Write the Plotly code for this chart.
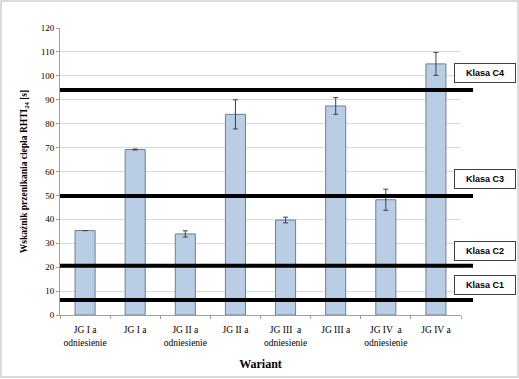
import plotly.graph_objects as go

categories = ["JG I a<br>odniesienie", "JG I a", "JG II a<br>odniesienie", "JG II a",
              "JG III  a<br>odniesienie", "JG III a", "JG IV  a<br>odniesienie", "JG IV a"]
values = [35.3, 69.2, 33.9, 83.9, 39.7, 87.4, 48.2, 105.0]
errors = [0.0, 0.2, 1.3, 6.1, 1.2, 3.5, 4.4, 4.8]
class_names = ["Klasa C1", "Klasa C2", "Klasa C3", "Klasa C4"]
class_limits = [6.3, 20.6, 49.8, 94.1]
class_label_y = [0.1045, 0.224, 0.4756, 0.843]
y_ticks = list(range(0, 121, 10))

serif = "Liberation Serif, Times New Roman, serif"

fig = go.Figure()
fig.add_trace(go.Bar(
    x=categories, y=values, width=0.4,
    marker=dict(color="#B9CDE5", line=dict(color="#6E7F95", width=1)),
    error_y=dict(type="data", array=errors, visible=True, color="#404040",
                 thickness=1, width=2.5),
    showlegend=False,
))

for lim in class_limits:
    fig.add_shape(type="line", xref="paper", yref="y", x0=0, x1=1.03, y0=lim, y1=lim,
                  line=dict(color="black", width=4), layer="above")

for name, py in zip(class_names, class_label_y):
    fig.add_annotation(xref="paper", yref="paper", x=0.9825, y=py, xanchor="left",
                       yanchor="middle", text="<b>" + name + "</b>", showarrow=False,
                       font=dict(family="Liberation Sans, Arial, sans-serif", size=9, color="black"),
                       bordercolor="#404040", borderwidth=1, bgcolor="white",
                       width=58, height=16, align="center")

# outer chart border
fig.add_shape(type="rect", xref="paper", yref="paper",
              x0=(1 - 60) / 401, x1=(518 - 60) / 401,
              y0=(315 - 377) / 287, y1=(315 - 1) / 287,
              line=dict(color="#D0D0D0", width=1.5))

fig.update_layout(
    width=519, height=379,
    margin=dict(l=60, r=58, t=28, b=64),
    paper_bgcolor="white", plot_bgcolor="white",
    font=dict(family=serif, size=9, color="black"),
    bargap=0.6,
    xaxis=dict(
        showline=True, linecolor="#A0A0A0", linewidth=1,
        ticks="outside", tickson="boundaries", ticklen=3, tickcolor="#A0A0A0",
        tickfont=dict(family=serif, size=9.5), ticklabelstandoff=6, tickangle=0,
        title=dict(text="<b>Wariant</b>", font=dict(family=serif, size=12), standoff=12),
    ),
    yaxis=dict(
        range=[0, 120], tickvals=y_ticks,
        showline=True, linecolor="#A0A0A0", linewidth=1,
        ticks="outside", ticklen=3, tickcolor="#A0A0A0",
        showgrid=True, gridcolor="#D9D9D9", gridwidth=1,
        tickfont=dict(family=serif, size=9),
        title=dict(text="<b>Wskaźnik przenikania ciepła RHTI<sub>24</sub> [s]</b>",
                   font=dict(family=serif, size=9.5), standoff=11),
        zeroline=False,
    ),
)

fig.write_html("out.html", config={"displayModeBar": False},
               post_script="document.body.style.margin='0';")
